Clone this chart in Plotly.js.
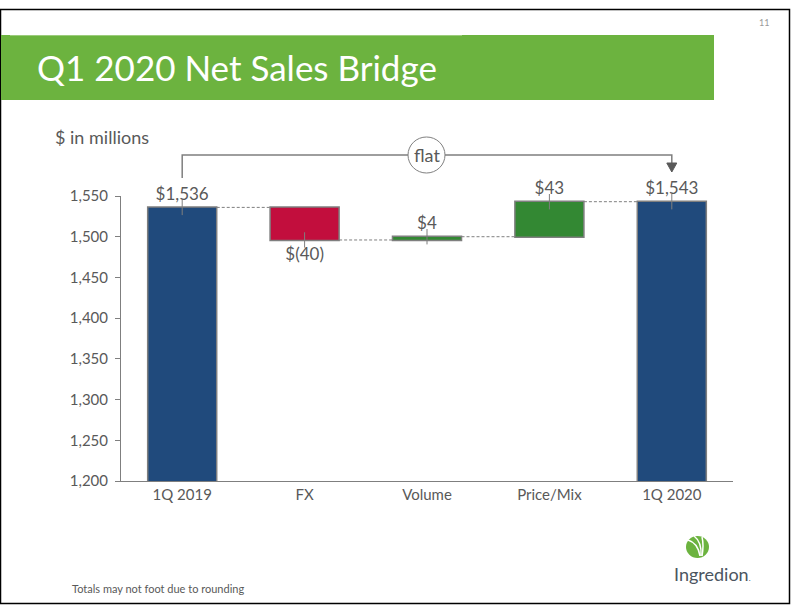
<!DOCTYPE html>
<html>
<head>
<meta charset="utf-8">
<script src="https://cdn.plot.ly/plotly-3.0.1.min.js"></script>
<style>
  html, body { margin: 0; padding: 0; background: #ffffff; }
  #chart { width: 792px; height: 612px; }
</style>
</head>
<body>
<div id="chart"></div>
<script>
// ---- data ----
const categories = ['1Q 2019', 'FX', 'Volume', 'Price/Mix', '1Q 2020'];
const values = [1536, -40, 4, 43, 1543];
const measures = ['absolute', 'relative', 'relative', 'relative', 'total'];
const valueLabels = ['$1,536', '$(40)', '$4', '$43', '$1,543'];
const yTicks = [1200, 1250, 1300, 1350, 1400, 1450, 1500, 1550];

// running end of each bar (for the small leader marks)
const ends = [];
let run = 0;
values.forEach((v, i) => {
  if (measures[i] === 'absolute') run = v;
  else if (measures[i] === 'relative') run += v;
  ends.push(run);
});

// ---- layout helpers (pixel -> paper) ----
const L = 121, R = 733, T = 196, B = 481, W = 792, H = 612;
const fx = px => (px - L) / (R - L);
const fy = py => (B - py) / (B - T);

const grey = '#595959';
const lineGrey = '#7f7f7f';
const FONT = 'Lato, "Open Sans", sans-serif';

const waterfall = {
  type: 'waterfall',
  x: categories,
  y: values,
  measure: measures,
  text: valueLabels,
  textposition: 'outside',
  textfont: { family: FONT, size: 17, color: grey },
  cliponaxis: false,
  increasing: { marker: { color: '#338833', line: { color: lineGrey, width: 1.5 } } },
  decreasing: { marker: { color: '#C20E3D', line: { color: lineGrey, width: 1.5 } } },
  totals: { marker: { color: '#204A7C', line: { color: lineGrey, width: 1.5 } } },
  connector: { mode: 'between', line: { color: lineGrey, width: 1, dash: '3px,2px' } },
  hoverinfo: 'skip',
  showlegend: false
};

const leaders = {
  type: 'scatter',
  mode: 'markers',
  x: categories,
  y: ends,
  marker: { symbol: 'line-ns', size: 11, line: { color: lineGrey, width: 1 } },
  cliponaxis: false,
  hoverinfo: 'skip',
  showlegend: false
};

// bracket x positions: centres of first and last categories
const xFirst = 0.5 / categories.length;
const xLast = (categories.length - 0.5) / categories.length;
const circL = fx(408), circR = fx(445);

const shapes = [
  // slide frame
  { type: 'rect', xref: 'paper', yref: 'paper', x0: fx(0.5), x1: fx(789.5), y0: fy(9.5), y1: fy(603.5),
    line: { color: '#000000', width: 1.5 }, fillcolor: 'rgba(0,0,0,0)', layer: 'below' },
  // title banner
  { type: 'rect', xref: 'paper', yref: 'paper', x0: fx(1), x1: fx(714), y0: fy(35), y1: fy(100),
    line: { width: 0 }, fillcolor: '#6CB33F', layer: 'below' },
  { type: 'line', xref: 'paper', yref: 'paper', x0: fx(10), x1: fx(462), y0: fy(35.5), y1: fy(35.5),
    line: { color: '#9ccc7c', width: 1 }, layer: 'below' },
  // bracket
  { type: 'path', xref: 'paper', yref: 'paper',
    path: `M ${xFirst},${fy(178)} L ${xFirst},${fy(155)} L ${circL},${fy(155)}`,
    line: { color: lineGrey, width: 1.5 } },
  { type: 'path', xref: 'paper', yref: 'paper',
    path: `M ${circR},${fy(155)} L ${xLast},${fy(155)} L ${xLast},${fy(164)}`,
    line: { color: lineGrey, width: 1.5 } },
  { type: 'path', xref: 'paper', yref: 'paper',
    path: `M ${xLast - 5/(R-L)},${fy(163)} L ${xLast + 5/(R-L)},${fy(163)} L ${xLast},${fy(172)} Z`,
    fillcolor: '#595959', line: { color: '#595959', width: 1 } },
  { type: 'circle', xref: 'paper', yref: 'paper', x0: circL, x1: circR, y0: fy(173), y1: fy(137),
    fillcolor: '#ffffff', line: { color: lineGrey, width: 1 } },
  // logo mark
  { type: 'circle', xref: 'paper', yref: 'paper', x0: fx(686), x1: fx(709), y0: fy(558), y1: fy(536),
    fillcolor: '#6CB33F', line: { width: 0 } },
  { type: 'path', xref: 'paper', yref: 'paper',
    path: `M ${fx(688)},${fy(540)} Q ${fx(698)},${fy(543)} ${fx(700)},${fy(556)}`,
    line: { color: '#ffffff', width: 1.5 } },
  { type: 'path', xref: 'paper', yref: 'paper',
    path: `M ${fx(694)},${fy(536)} Q ${fx(702)},${fy(542)} ${fx(701)},${fy(556)}`,
    line: { color: '#ffffff', width: 1.5 } },
  { type: 'path', xref: 'paper', yref: 'paper',
    path: `M ${fx(702)},${fy(537)} Q ${fx(704)},${fy(545)} ${fx(702)},${fy(556)}`,
    line: { color: '#ffffff', width: 1.5 } }
];

const annotations = [
  { text: 'Q1 2020 Net Sales Bridge', xref: 'paper', yref: 'paper', x: fx(35), y: fy(67),
    xanchor: 'left', yanchor: 'middle', showarrow: false,
    font: { family: FONT, size: 35, color: '#ffffff' } },
  { text: '$ in millions', xref: 'paper', yref: 'paper', x: fx(53), y: fy(137),
    xanchor: 'left', yanchor: 'middle', showarrow: false,
    font: { family: FONT, size: 18, color: grey } },
  { text: 'flat', xref: 'paper', yref: 'paper', x: (circL + circR) / 2, y: fy(155),
    xanchor: 'center', yanchor: 'middle', showarrow: false,
    font: { family: FONT, size: 18, color: grey } },
  { text: '11', xref: 'paper', yref: 'paper', x: fx(764), y: fy(22),
    xanchor: 'center', yanchor: 'middle', showarrow: false,
    font: { family: FONT, size: 9, color: '#9a9a9a' } },
  { text: 'Totals may not foot due to rounding', xref: 'paper', yref: 'paper', x: fx(70), y: fy(588),
    xanchor: 'left', yanchor: 'middle', showarrow: false,
    font: { family: FONT, size: 11, color: grey } },
  { text: 'Ingredion<span style="font-size:8px">.</span>', xref: 'paper', yref: 'paper', x: fx(712), y: fy(574),
    xanchor: 'center', yanchor: 'middle', showarrow: false,
    font: { family: FONT, size: 18, color: '#4B5560' } }
];

const layout = {
  width: W, height: H,
  margin: { l: L, r: W - R, t: T, b: H - B, pad: 0 },
  paper_bgcolor: '#ffffff',
  plot_bgcolor: '#ffffff',
  font: { family: FONT, color: grey },
  waterfallgap: 0.436,
  showlegend: false,
  xaxis: {
    type: 'category',
    showline: true, linecolor: lineGrey, linewidth: 1,
    ticks: '', showgrid: false, zeroline: false,
    tickfont: { family: FONT, size: 15, color: grey },
    fixedrange: true
  },
  yaxis: {
    range: [1200, 1550],
    tickvals: yTicks,
    tickformat: ',',
    showline: true, linecolor: lineGrey, linewidth: 1,
    ticks: 'outside', ticklen: 5, tickcolor: lineGrey, tickwidth: 1,
    ticklabelstandoff: 4,
    showgrid: false, zeroline: false,
    tickfont: { family: FONT, size: 15, color: grey },
    fixedrange: true
  },
  shapes: shapes,
  annotations: annotations
};

Plotly.newPlot('chart', [waterfall, leaders], layout, { staticPlot: true, displayModeBar: false });
</script>
</body>
</html>
